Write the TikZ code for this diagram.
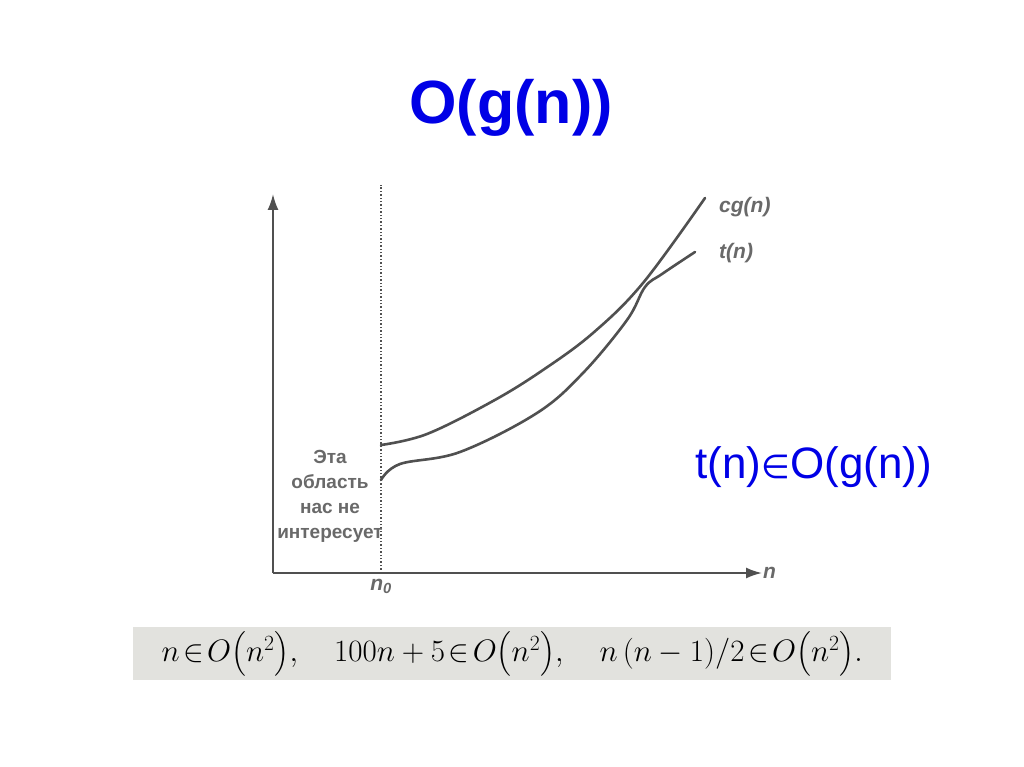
\RequirePackage{fix-cm}
\documentclass[tikz,border=0pt]{standalone}
\usepackage[no-math]{fontspec}
\setmainfont{Liberation Sans}
\newfontfamily\dejavu{DejaVu Sans}
\usepackage{amsmath}
\usetikzlibrary{arrows.meta,positioning}

\definecolor{ogblue}{RGB}{0,0,230}
\definecolor{oggray}{RGB}{80,80,80}
\definecolor{ogtext}{RGB}{105,105,105}
\definecolor{ogbox}{RGB}{226,226,222}

\begin{document}
\begin{tikzpicture}[x=1pt, y=-1pt,
  ogaxis/.style={draw=oggray, line width=2pt, -{Latex[length=16pt, width=11pt]}},
  ogcurve/.style={draw=oggray, line width=2.6pt, line cap=round},
  oglabel/.style={text=ogtext, font=\fontsize{21}{23}\selectfont\bfseries\itshape, inner sep=1pt},
  ogzone/.style={text=ogtext, font=\fontsize{19}{25}\selectfont\bfseries, align=center, inner sep=0pt}
]
\useasboundingbox[fill=white] (0,0) rectangle (1024,767);

% title
\node[text=ogblue, font=\fontsize{61}{64}\selectfont\bfseries] (title) at (511,108) {O(g(n))};

% axes
\coordinate (orig) at (273,573);
\coordinate (ytop) at (273,194);
\coordinate (xend) at (762,573);
\draw[ogaxis] (orig) -- (ytop);
\draw[ogaxis] (orig) -- (xend);
\node[oglabel, anchor=west] (nlab) at (xend) {n};

% n0 threshold
\coordinate (nzero) at (381,573);
\coordinate (nzerotop) at (381,185);
\draw[oggray, line width=1.4pt, dotted] (nzero) -- (nzerotop);
\node[oglabel, below=5pt of nzero] (nzlab) {n\textsubscript{0}};

% curves
\draw[ogcurve] plot[smooth, tension=0.6] coordinates {(381,445) (427,434) (493,401) (543,370) (593,333) (643,283) (705,198)};
\draw[ogcurve] plot[smooth, tension=0.6] coordinates {(381,480) (400,464) (460,452) (537,413) (583,373) (627,320) (645,287) (662,274) (695,252)};
\node[oglabel, anchor=west] (cglab) at (718,207) {cg(n)};
\node[oglabel, anchor=west] (tlab) at (718,253) {t(n)};

% region note
\node[ogzone] (zone) at (330,496) {Эта\\область\\нас не\\интересует};

% membership
\node[text=ogblue, font=\fontsize{44}{48}\selectfont, anchor=west] (member) at (692,467) {t(n){\dejavu\fontsize{33}{33}\selectfont∈}O(g(n))};

% examples strip
\node[fill=ogbox, minimum width=758pt, minimum height=53pt, anchor=north west, inner sep=0pt] (strip) at (133,627) {};
\node[font=\fontsize{31}{34}\selectfont] (examples) at (strip.center)
  {$n\!\in\! O\bigl(n^2\bigr),\quad 100n+5\!\in\! O\bigl(n^2\bigr),\quad n\,(n-1)/2\!\in\! O\bigl(n^2\bigr).$};
\end{tikzpicture}
\end{document}
